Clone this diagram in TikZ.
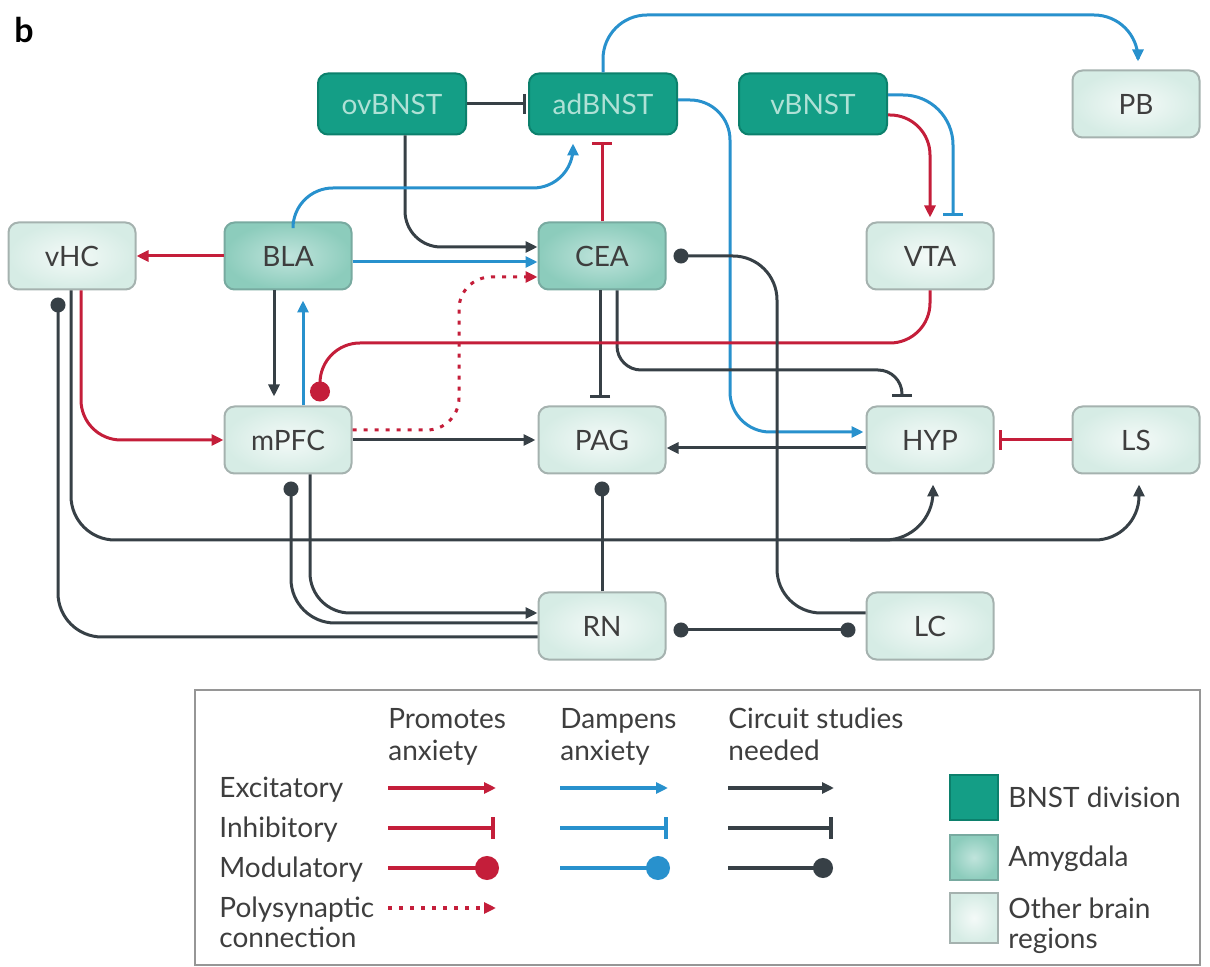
\documentclass[tikz,border=0pt]{standalone}
\usepackage{fontspec}
\setmainfont{Lato}
\usetikzlibrary{arrows.meta}
\definecolor{bnstfill}{RGB}{20,158,134}
\definecolor{bnstdraw}{RGB}{12,128,108}
\definecolor{bnsttext}{RGB}{175,225,214}
\definecolor{amyin}{RGB}{192,228,220}
\definecolor{amyout}{RGB}{140,204,188}
\definecolor{amydraw}{RGB}{120,170,160}
\definecolor{othin}{RGB}{244,250,248}
\definecolor{othout}{RGB}{214,236,229}
\definecolor{othdraw}{RGB}{165,178,175}
\definecolor{cred}{RGB}{196,30,58}
\definecolor{cblue}{RGB}{40,145,205}
\definecolor{cdark}{RGB}{55,64,70}
\definecolor{ctext}{RGB}{62,62,62}
\definecolor{cframe}{RGB}{150,150,150}
\begin{document}
\begin{tikzpicture}[x=0.5pt,y=-0.5pt,
  box/.style={rounded corners=5pt, line width=1pt, font=\fontsize{14}{16}\selectfont, inner sep=0pt},
  bnst/.style={box, fill=bnstfill, draw=bnstdraw, text=bnsttext, minimum width=74pt, minimum height=30.5pt},
  amy/.style={box, inner color=amyin, outer color=amyout, draw=amydraw, text=ctext, minimum width=63.5pt, minimum height=33.5pt},
  other/.style={box, inner color=othin, outer color=othout, draw=othdraw, text=ctext, minimum width=63.5pt, minimum height=33.5pt},
  redln/.style={line width=1.5pt, draw=cred},
  blueln/.style={line width=1.5pt, draw=cblue},
  darkln/.style={line width=1.5pt, draw=cdark},
  exc/.style={-{Triangle[length=6pt,width=5.5pt]}},
  inh/.style={-{Bar[width=10pt,line width=1.5pt]}},
  modd/.style={-{Circle[length=7.5pt]}},
  redmod/.style={-{Circle[length=10pt]}},
  dotline/.style={dash pattern=on 2pt off 3.5pt},
  leg/.style={font=\fontsize{14}{16}\selectfont, text=ctext, anchor=base west, inner sep=0pt},
  legln/.style={line width=2pt},
  swatch/.style={line width=1pt}
]
\useasboundingbox (0,0) rectangle (1210,967);

\node[font=\bfseries\fontsize{17}{19}\selectfont, anchor=base west, inner sep=0pt] (lbl) at (14,43) {b};

% nodes
\node[bnst] (ovBNST) at (392,104) {ovBNST};
\node[bnst] (adBNST) at (603,104) {adBNST};
\node[bnst] (vBNST) at (813,104) {vBNST};
\node[other] (PB) at (1136,104) {PB};
\node[other] (vHC) at (72,256) {vHC};
\node[amy] (BLA) at (288,256) {BLA};
\node[amy] (CEA) at (602,256) {CEA};
\node[other] (VTA) at (930,256) {VTA};
\node[other] (mPFC) at (288,440) {mPFC};
\node[other] (PAG) at (602,440) {PAG};
\node[other] (HYP) at (930,440) {HYP};
\node[other] (LS) at (1136,440) {LS};
\node[other] (RN) at (602,626) {RN};
\node[other] (LC) at (930,626) {LC};
\coordinate (br) at (850,540);

% connectors
\draw[darkln,inh,shorten >=1pt] (ovBNST.east) -- (adBNST.west);
\draw[darkln,exc,rounded corners=18pt] ([xshift=6.5pt]ovBNST.south) |- ([yshift=4.5pt]CEA.west);
\draw[blueln,exc,rounded corners=22pt] (adBNST.north) |- (1138,15) -- ([xshift=1pt,yshift=4pt]PB.north);
\draw[redln,exc,rounded corners=20pt] ([yshift=-5.5pt]vBNST.east) -| ([yshift=2pt]VTA.north);
\draw[blueln,inh,rounded corners=25pt] ([yshift=4.5pt]vBNST.east) -| ([xshift=11.5pt,yshift=2.5pt]VTA.north);
\draw[blueln,exc,rounded corners=20pt] ([xshift=2.5pt]BLA.north) |- (573,188) -- ([xshift=-15pt,yshift=-4pt]adBNST.south);
\draw[redln,inh,shorten >=3.5pt] (CEA.north) -- (CEA.north |- adBNST.south);
\draw[blueln,exc] ([yshift=-3pt]BLA.east) -- ([yshift=-3pt]CEA.west);
\draw[redln,exc,dotline,rounded corners=16pt] ([yshift=5pt]mPFC.east) -| (459,277) -- ([yshift=-10.5pt]CEA.west);
\draw[redln,exc] (BLA.west) -- (vHC.east);
\draw[blueln,exc,rounded corners=20pt,shorten >=1pt] ([yshift=2pt]adBNST.east) -| (730,432) -- ([yshift=4pt]HYP.west);
\draw[darkln,inh,shorten >=3.5pt] ([xshift=-1pt]CEA.south) -- ([xshift=-1pt]PAG.north);
\draw[darkln,inh,rounded corners=12pt] ([xshift=7.5pt]CEA.south) |- (902,370) -- ([xshift=-14pt,yshift=4pt]HYP.north);
\draw[redln,redmod,rounded corners=20pt] (VTA.south) |- (320,343) -- ([xshift=16pt,yshift=2pt]mPFC.north);
\draw[darkln,exc] ([xshift=-7pt]BLA.south) -- ([xshift=-7pt,yshift=4.5pt]mPFC.north);
\draw[blueln,exc] ([xshift=7.5pt]mPFC.north) -- ([xshift=7.5pt,yshift=-5pt]BLA.south);
\draw[redln,exc,rounded corners=20pt] ([xshift=4.5pt]vHC.south) |- (mPFC.west);
\draw[darkln,exc,shorten >=1pt] (mPFC.east) -- (PAG.west);
\draw[darkln,exc] ([yshift=-4pt]HYP.west) -- ([yshift=-4pt]PAG.east);
\draw[redln,inh,shorten >=2pt] (LS.west) -- (HYP.east);
\draw[darkln,exc,rounded corners=22pt] ([xshift=-0.5pt]vHC.south) |- (1139,540) -- ([xshift=1.5pt,yshift=-5pt]LS.south);
\draw[darkln,exc,rounded corners=24pt] (br) -| ([xshift=1.5pt,yshift=-5pt]HYP.south);
\draw[darkln,modd,rounded corners=22pt] ([yshift=-5.5pt]RN.west) -| ([xshift=-7pt,yshift=-3.5pt]vHC.south);
\draw[darkln,exc,rounded corners=20pt] ([xshift=11pt]mPFC.south) |- ([yshift=6.5pt]RN.west);
\draw[darkln,modd,rounded corners=22pt] ([yshift=1.5pt]RN.west) -| ([xshift=1.5pt,yshift=-3.5pt]mPFC.south);
\draw[darkln,modd] (RN.north) -- ([yshift=-3.5pt]PAG.south);
\draw[darkln,modd,rounded corners=22pt] ([yshift=6.5pt]LC.west) -| (777,256) -- ([xshift=3.5pt]CEA.east);
\draw[darkln,{Circle[length=7.5pt]}-{Circle[length=7.5pt]},shorten <=3.5pt,shorten >=5pt] ([yshift=-2pt]RN.east) -- ([yshift=-2pt]LC.west);

% legend
\draw[draw=cframe,line width=1pt] (195,690) rectangle (1200,965);
\node[leg] (h1a) at (388,728) {Promotes};
\node[leg] (h1b) at (388,760) {anxiety};
\node[leg] (h2a) at (560,728) {Dampens};
\node[leg] (h2b) at (560,760) {anxiety};
\node[leg] (h3a) at (728,728) {Circuit studies};
\node[leg] (h3b) at (728,760) {needed};
\node[leg] (r1) at (219,797) {Excitatory};
\node[leg] (r2) at (219,837) {Inhibitory};
\node[leg] (r3) at (219,877) {Modulatory};
\node[leg] (r4) at (219,917) {Polysynaptic};
\node[leg] (r5) at (219,947) {connection};

\draw[legln,draw=cred,exc] (388,788) -- (496,788);
\draw[legln,draw=cred,-{Bar[width=11pt,line width=2pt]}] (388,828) -- (495,828);
\draw[legln,draw=cred,-{Circle[length=12pt]}] (388,868) -- (499,868);
\draw[legln,draw=cred,dotline,exc] (388,908) -- (496,908);

\draw[legln,draw=cblue,exc] (560,788) -- (668,788);
\draw[legln,draw=cblue,-{Bar[width=11pt,line width=2pt]}] (560,828) -- (668,828);
\draw[legln,draw=cblue,-{Circle[length=12pt]}] (560,868) -- (670,868);

\draw[legln,draw=cdark,exc] (728,788) -- (834,788);
\draw[legln,draw=cdark,-{Bar[width=11pt,line width=2pt]}] (728,828) -- (833,828);
\draw[legln,draw=cdark,-{Circle[length=10pt]}] (728,868) -- (833,868);

\draw[swatch,fill=bnstfill,draw=bnstdraw] (950,775) rectangle (998,820);
\draw[swatch,inner color=amyin,outer color=amyout,draw=amydraw] (950,835) rectangle (998,880);
\draw[swatch,inner color=othin,outer color=othout,draw=othdraw] (950,893) rectangle (998,943);
\node[leg] (s1) at (1008,807) {BNST division};
\node[leg] (s2) at (1008,866) {Amygdala};
\node[leg] (s3) at (1008,918) {Other brain};
\node[leg] (s4) at (1008,948) {regions};
\end{tikzpicture}
\end{document}
